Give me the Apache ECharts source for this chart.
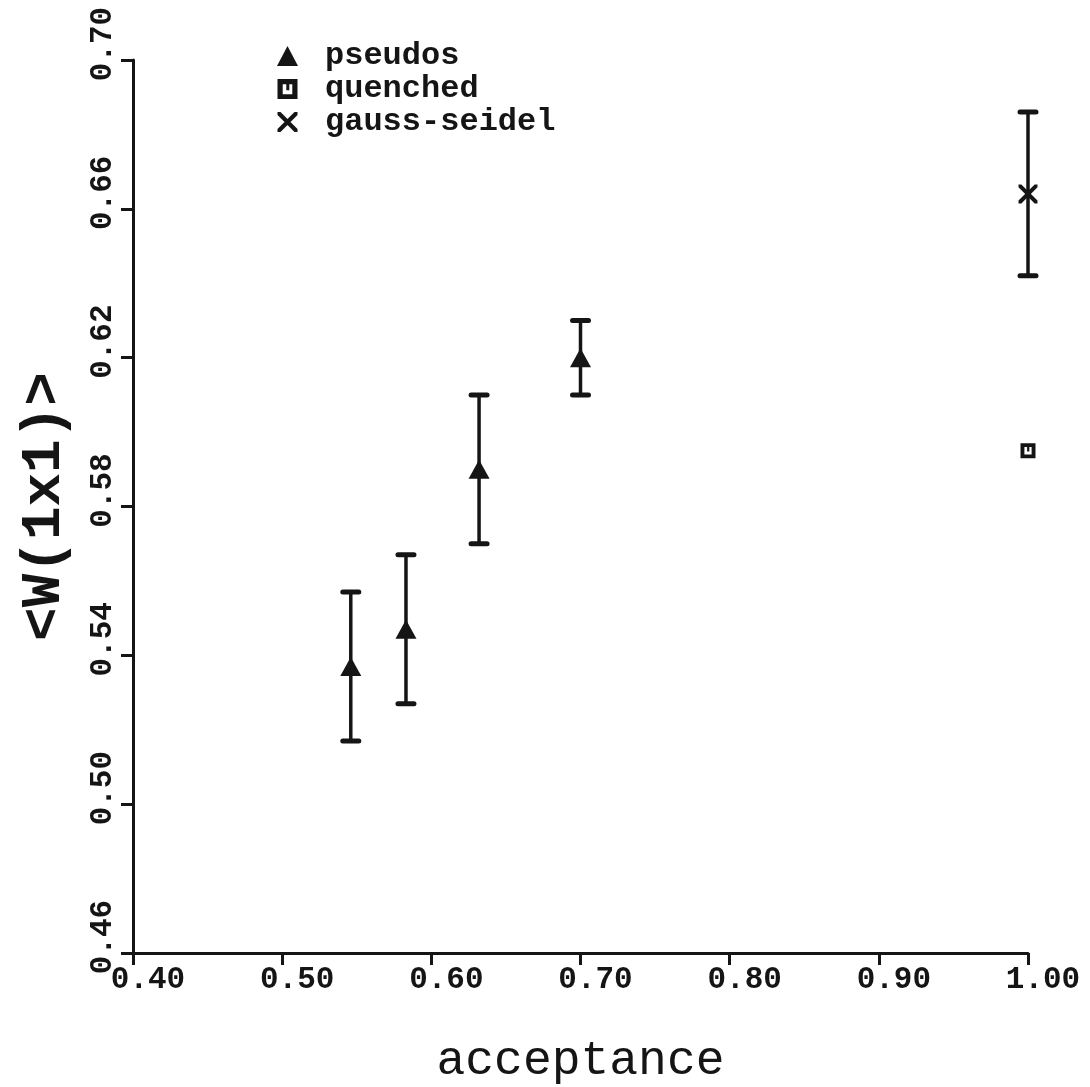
<!DOCTYPE html>
<html>
<head>
<meta charset="utf-8">
<script src="https://cdn.jsdelivr.net/npm/echarts@6/dist/echarts.min.js"></script>
<style>
  html, body { margin: 0; padding: 0; background: #fff; }
  #chart { width: 1090px; height: 1087px; }
</style>
</head>
<body>
<div id="chart"></div>
<script>
// Plaquette expectation value versus acceptance rate
const xTicks = [0.40, 0.50, 0.60, 0.70, 0.80, 0.90, 1.00];
const yTicks = [0.46, 0.50, 0.54, 0.58, 0.62, 0.66, 0.70];

const pseudosX = [0.546, 0.583, 0.632, 0.700];
const pseudosY = [0.537, 0.547, 0.590, 0.620];
const pseudosErr = [0.020, 0.020, 0.020, 0.010];

const quenchedX = [1.00];
const quenchedY = [0.595];

const gaussX = [1.00];
const gaussY = [0.664];
const gaussErr = [0.022];

const INK = '#151515';
const MONO = '"Liberation Mono", "DejaVu Sans Mono", monospace';

// heavy square with a hole and a small inner bar
const squareIcon = 'path://M0,0 L10,0 L10,10 L0,10 Z M2.6,2.6 L2.6,7.6 L7.4,7.6 L7.4,2.6 Z M4.4,2.6 L5.9,2.6 L5.9,5.6 L4.4,5.6 Z';
// diagonal cross
const crossIcon = 'path://M0,0 L1.5,0 L10,8.5 L10,10 L8.5,10 L0,1.5 Z M10,0 L10,1.5 L1.5,10 L0,10 L0,8.5 L8.5,0 Z';

function pairs(xs, ys) { return xs.map((x, i) => [x, ys[i]]); }
function errRows(xs, ys, es) { return xs.map((x, i) => [x, ys[i] - es[i], ys[i] + es[i]]); }

function renderErrorBar(params, api) {
  const lo = api.coord([api.value(0), api.value(1)]);
  const hi = api.coord([api.value(0), api.value(2)]);
  const half = 8;
  const style = { stroke: INK, lineWidth: 3.5, lineCap: 'round' };
  const cap = Object.assign({}, style, { lineWidth: 5 });
  return {
    type: 'group',
    children: [
      { type: 'line', shape: { x1: lo[0], y1: lo[1], x2: hi[0], y2: hi[1] }, style },
      { type: 'line', shape: { x1: lo[0] - half, y1: lo[1], x2: lo[0] + half, y2: lo[1] }, style: cap },
      { type: 'line', shape: { x1: hi[0] - half, y1: hi[1], x2: hi[0] + half, y2: hi[1] }, style: cap }
    ]
  };
}

const chart = echarts.init(document.getElementById('chart'), null, { renderer: 'canvas' });

chart.setOption({
  animation: false,
  backgroundColor: '#fff',
  grid: { left: 133, right: 62, top: 60, bottom: 134, containLabel: false, outerBoundsMode: 'none' },
  legend: {
    orient: 'vertical',
    left: 272,
    top: 35,
    itemWidth: 21,
    itemHeight: 20,
    itemGap: 1,
    data: [
      { name: 'pseudos', icon: 'triangle' },
      { name: 'quenched', icon: squareIcon },
      { name: 'gauss-seidel', icon: crossIcon }
    ],
    textStyle: {
      fontFamily: MONO, fontWeight: 'bold', fontSize: 32, color: INK,
      lineHeight: 32, padding: [0, 0, 0, 22]
    }
  },
  xAxis: {
    type: 'value',
    min: xTicks[0],
    max: xTicks[xTicks.length - 1],
    interval: 0.1,
    name: 'acceptance',
    nameLocation: 'middle',
    nameGap: 84,
    nameTextStyle: { fontFamily: MONO, fontSize: 48, color: INK },
    axisLine: { show: true, lineStyle: { color: INK, width: 3 } },
    axisTick: { show: true, length: 12, lineStyle: { color: INK, width: 3 } },
    axisLabel: {
      fontFamily: MONO, fontWeight: 'bold', fontSize: 31, color: INK, margin: 12,
      padding: [0, 0, 0, 30],
      formatter: v => v.toFixed(2)
    },
    splitLine: { show: false }
  },
  yAxis: {
    type: 'value',
    min: yTicks[0],
    max: yTicks[yTicks.length - 1],
    interval: 0.04,
    name: '<W(1x1)>',
    nameLocation: 'middle',
    nameGap: 60,
    nameRotate: 90,
    nameTextStyle: { fontFamily: MONO, fontWeight: 'bold', fontSize: 56, color: INK },
    axisLine: { show: true, lineStyle: { color: INK, width: 3 } },
    axisTick: { show: true, length: 12, lineStyle: { color: INK, width: 3 } },
    axisLabel: {
      rotate: 90,
      fontFamily: MONO, fontWeight: 'bold', fontSize: 31, color: INK, margin: 14,
      padding: [0, 0, 0, 32],
      formatter: v => v.toFixed(2)
    },
    splitLine: { show: false }
  },
  series: [
    {
      name: 'pseudos-err', type: 'custom', renderItem: renderErrorBar,
      data: errRows(pseudosX, pseudosY, pseudosErr), encode: { x: 0, y: [1, 2] }, z: 2, silent: true
    },
    {
      name: 'gauss-err', type: 'custom', renderItem: renderErrorBar,
      data: errRows(gaussX, gaussY, gaussErr), encode: { x: 0, y: [1, 2] }, z: 2, silent: true
    },
    {
      name: 'pseudos', type: 'scatter', symbol: 'triangle', symbolSize: [21, 19],
      itemStyle: { color: INK, opacity: 1 }, data: pairs(pseudosX, pseudosY), z: 3
    },
    {
      name: 'quenched', type: 'scatter', symbol: squareIcon, symbolSize: 15,
      itemStyle: { color: INK, opacity: 1 }, data: pairs(quenchedX, quenchedY), z: 3
    },
    {
      name: 'gauss-seidel', type: 'scatter', symbol: crossIcon, symbolSize: 19,
      itemStyle: { color: INK, opacity: 1 }, data: pairs(gaussX, gaussY), z: 3
    }
  ]
});
</script>
</body>
</html>
